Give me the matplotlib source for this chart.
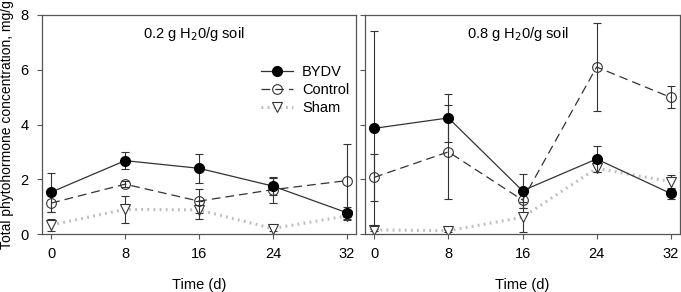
import matplotlib
matplotlib.use("Agg")
import matplotlib.pyplot as plt
from matplotlib.lines import Line2D

plt.rcParams['font.family'] = ['Liberation Sans', 'DejaVu Sans']

days = [0, 8, 16, 24, 32]
panel_titles = ["0.2 g H$_2$0/g soil", "0.8 g H$_2$0/g soil"]

# 0.2 g H2O/g soil
bydv_low = [1.53, 2.68, 2.40, 1.75, 0.78]
bydv_low_err = [0.71, 0.32, 0.54, 0.31, 0.22]
control_low = [1.13, 1.82, 1.20, 1.62, 1.95]
control_low_err = [0.31, 0.10, 0.45, 0.48, 1.33]
sham_low = [0.33, 0.90, 0.88, 0.20, 0.66]
sham_low_err = [0.22, 0.48, 0.32, 0.08, 0.15]

# 0.8 g H2O/g soil
bydv_high = [3.86, 4.24, 1.58, 2.74, 1.48]
bydv_high_err = [3.55, 0.88, 0.63, 0.48, 0.20]
control_high = [2.07, 3.00, 1.24, 6.10, 4.99]
control_high_err = [0.85, 1.72, 0.30, 1.60, 0.40]
sham_high = [0.15, 0.12, 0.61, 2.40, 1.91]
sham_high_err = [0.05, 0.04, 0.55, 0.15, 0.25]

dark = '#333333'
spine_c = '#555555'

# line styles for each treatment
sham_kw = dict(color='#bdbdbd', ls=(0, (0.6, 1.4)), lw=2.2, marker='v', ms=7,
               mfc='white', mec=dark, mew=0.8)
control_kw = dict(color=dark, ls=(0, (7, 4)), lw=0.9, marker='o', ms=7,
                  mfc='none', mec=dark, mew=0.8)
bydv_kw = dict(color=dark, ls='-', lw=0.9, marker='o', ms=7,
               mfc='black', mec='black')

fig = plt.figure(figsize=(6.81, 2.92), dpi=100)
ax1 = fig.add_axes([42/681, 1-234/292, 314/681, 219/292])
ax2 = fig.add_axes([365/681, 1-234/292, 315/681, 219/292])

datasets = [
    (bydv_low, bydv_low_err, control_low, control_low_err, sham_low, sham_low_err),
    (bydv_high, bydv_high_err, control_high, control_high_err, sham_high, sham_high_err),
]

for i, (ax, d) in enumerate(zip([ax1, ax2], datasets)):
    by, bye, co, coe, sh, she = d
    ebkw = dict(ecolor=dark, elinewidth=0.8, capsize=3.2, capthick=0.8)
    ax.errorbar(days, sh, yerr=she, zorder=2, **sham_kw, **ebkw)
    ax.errorbar(days, co, yerr=coe, zorder=3, **control_kw, **ebkw)
    ax.errorbar(days, by, yerr=bye, zorder=4, **bydv_kw, **ebkw)
    ax.set_xlim(-1, 33)
    ax.set_ylim(0, 8)
    ax.set_xticks(days)
    ax.set_yticks([0, 2, 4, 6, 8])
    for s in ax.spines.values():
        s.set_color(spine_c)
        s.set_linewidth(0.9)
    ax.tick_params(direction='out', length=3.5, width=0.8, color=spine_c,
                   labelsize=10.5, pad=6)
    ax.set_xlabel('Time (d)', fontsize=10.5, labelpad=12)
    ax.text(0.485, 0.955, panel_titles[i], transform=ax.transAxes,
            ha='center', va='top', fontsize=10.5)

ax2.tick_params(axis='y', labelleft=False)
ax1.set_ylabel('Total phytohormone concentration, mg/g', fontsize=10, labelpad=5)

handles = [Line2D([], [], **bydv_kw), Line2D([], [], **control_kw),
           Line2D([], [], **sham_kw)]
ax1.legend(handles, ['BYDV', 'Control', 'Sham'], loc='upper right',
           bbox_to_anchor=(1.02, 0.83), frameon=False, fontsize=10.5,
           handlelength=2.2, handletextpad=0.6, labelspacing=0.25)

fig.savefig('out.png', dpi=100)
